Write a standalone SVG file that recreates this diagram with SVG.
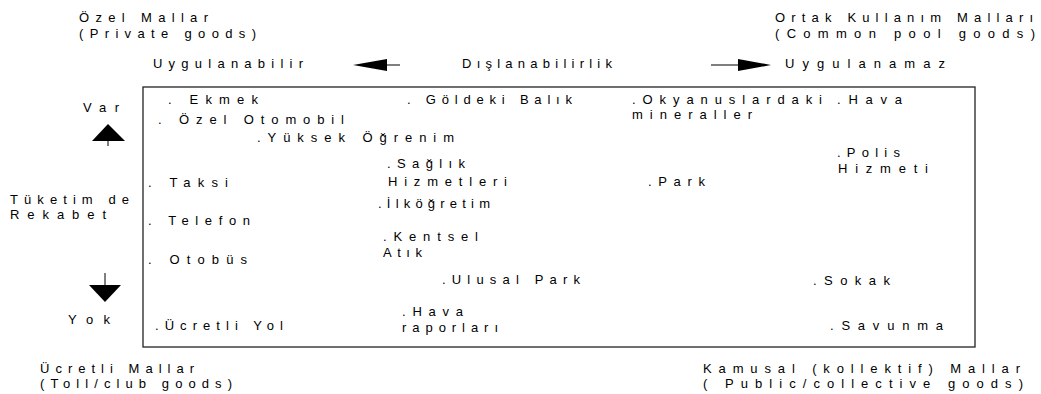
<svg xmlns="http://www.w3.org/2000/svg" width="1041" height="394" viewBox="0 0 1041 394">
  <style>
    text { font-family: "Liberation Sans", Arial, sans-serif; font-size: 13px; fill: #000; }
    .frame { fill: none; stroke: #222; stroke-width: 1.3; }
    .shaft { stroke: #000; stroke-width: 1; fill: none; }
    .head { fill: #000; stroke: none; }
  </style>
  <rect width="1041" height="394" fill="#fff"/>

  <!-- category headings -->
  <g id="private-goods">
    <text x="79" y="22" textLength="129" lengthAdjust="spacing">Özel Mallar</text>
    <text x="79" y="38" textLength="177" lengthAdjust="spacing">(Private goods)</text>
  </g>
  <g id="common-pool-goods">
    <text x="775" y="22" textLength="258" lengthAdjust="spacing">Ortak Kullanım Malları</text>
    <text x="775" y="38" textLength="260" lengthAdjust="spacing">(Common pool goods)</text>
  </g>
  <g id="toll-goods">
    <text x="40" y="373" textLength="154" lengthAdjust="spacing">Ücretli Mallar</text>
    <text x="40" y="388" textLength="192" lengthAdjust="spacing">(Toll/club goods)</text>
  </g>
  <g id="public-goods">
    <text x="703" y="373" textLength="317" lengthAdjust="spacing">Kamusal (kollektif) Mallar</text>
    <text x="703" y="388" textLength="320" lengthAdjust="spacing">( Public/collective goods)</text>
  </g>

  <!-- axis labels -->
  <g id="axis-excludability">
    <text x="153" y="68" textLength="150" lengthAdjust="spacing">Uygulanabilir</text>
    <text x="462" y="68" textLength="150" lengthAdjust="spacing">Dışlanabilirlik</text>
    <text x="785" y="68" textLength="160" lengthAdjust="spacing">Uygulanamaz</text>
  </g>
  <g id="axis-rivalry">
    <text x="83" y="112" textLength="36" lengthAdjust="spacing">Var</text>
    <text x="10" y="204" textLength="119" lengthAdjust="spacing">Tüketim de</text>
    <text x="10" y="219" textLength="96" lengthAdjust="spacing">Rekabet</text>
    <text x="68" y="324" textLength="42" lengthAdjust="spacing">Yok</text>
  </g>

  <!-- arrows -->
  <g id="connectors">
    <line class="shaft" x1="387" y1="65" x2="400" y2="65"/>
    <polygon class="head" points="353,65 387,59 387,71"/>
    <line class="shaft" x1="711" y1="65" x2="738" y2="65"/>
    <polygon class="head" points="771,65 738,59 738,71"/>
    <line class="shaft" x1="108" y1="140" x2="108" y2="146"/>
    <polygon class="head" points="108,124 92,141 125,141"/>
    <line class="shaft" x1="105" y1="273" x2="105" y2="286"/>
    <polygon class="head" points="89,285 121,285 105,302"/>
  </g>

  <!-- classification frame -->
  <g id="frame">
    <rect class="frame" x="143" y="87" width="832" height="260"/>
  </g>

  <!-- goods placed in the frame -->
  <g id="ekmek"><text x="168" y="104" textLength="90" lengthAdjust="spacing">. Ekmek</text></g>
  <g id="ozel-otomobil"><text x="158" y="124" textLength="186" lengthAdjust="spacing">. Özel Otomobil</text></g>
  <g id="yuksek-ogrenim"><text x="257" y="142" textLength="197" lengthAdjust="spacing">.Yüksek Öğrenim</text></g>
  <g id="goldeki-balik"><text x="407" y="104" textLength="165" lengthAdjust="spacing">. Göldeki Balık</text></g>
  <g id="okyanus-mineralleri">
    <text x="632" y="104" textLength="190" lengthAdjust="spacing">.Okyanuslardaki</text>
    <text x="632" y="119" textLength="120" lengthAdjust="spacing">mineraller</text>
  </g>
  <g id="hava"><text x="837" y="104" textLength="65" lengthAdjust="spacing">.Hava</text></g>
  <g id="polis-hizmeti">
    <text x="837" y="157" textLength="63" lengthAdjust="spacing">.Polis</text>
    <text x="838" y="173" textLength="90" lengthAdjust="spacing">Hizmeti</text>
  </g>
  <g id="taksi"><text x="148" y="187" textLength="80" lengthAdjust="spacing">. Taksi</text></g>
  <g id="saglik-hizmetleri">
    <text x="387" y="168" textLength="78" lengthAdjust="spacing">.Sağlık</text>
    <text x="388" y="186" textLength="119" lengthAdjust="spacing">Hizmetleri</text>
  </g>
  <g id="park"><text x="648" y="186" textLength="57" lengthAdjust="spacing">.Park</text></g>
  <g id="ilkogretim"><text x="378" y="208" textLength="112" lengthAdjust="spacing">.İlköğretim</text></g>
  <g id="telefon"><text x="148" y="225" textLength="102" lengthAdjust="spacing">. Telefon</text></g>
  <g id="kentsel-atik">
    <text x="383" y="241" textLength="95" lengthAdjust="spacing">.Kentsel</text>
    <text x="383" y="257" textLength="39" lengthAdjust="spacing">Atık</text>
  </g>
  <g id="otobus"><text x="148" y="264" textLength="99" lengthAdjust="spacing">. Otobüs</text></g>
  <g id="ulusal-park"><text x="442" y="284" textLength="138" lengthAdjust="spacing">.Ulusal Park</text></g>
  <g id="sokak"><text x="813" y="285" textLength="77" lengthAdjust="spacing">.Sokak</text></g>
  <g id="ucretli-yol"><text x="155" y="330" textLength="128" lengthAdjust="spacing">.Ücretli Yol</text></g>
  <g id="hava-raporlari">
    <text x="402" y="316" textLength="61" lengthAdjust="spacing">.Hava</text>
    <text x="402" y="332" textLength="96" lengthAdjust="spacing">raporları</text>
  </g>
  <g id="savunma"><text x="830" y="330" textLength="113" lengthAdjust="spacing">.Savunma</text></g>
</svg>
